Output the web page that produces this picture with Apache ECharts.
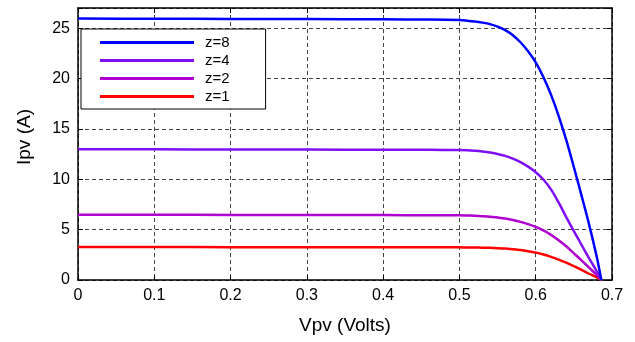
<!DOCTYPE html>
<html>
<head>
    <meta charset="utf-8">
    <title>Ipv - Vpv</title>
    <script src="https://cdn.jsdelivr.net/npm/echarts@6/dist/echarts.min.js"></script>
    <style>
        html, body { margin: 0; padding: 0; background: #ffffff; }
        #main { width: 635px; height: 342px; }
    </style>
</head>
<body>
<div id="main"></div>
<script>
    // curves: voltage (V) shared, current (A) per z
    var names = ['z=8', 'z=4', 'z=2', 'z=1'];
    var colors = ['#0000ff', '#7f10f5', '#b000d0', '#ff0000'];

    var volts = [0, 0.1, 0.2, 0.3, 0.4, 0.46, 0.5, 0.51, 0.52, 0.53, 0.54, 0.55, 0.56, 0.57, 0.58, 0.59,
                 0.6, 0.61, 0.62, 0.63, 0.64, 0.65, 0.66, 0.67, 0.68, 0.686];
    var iZ8 = [25.95, 25.93, 25.92, 25.9, 25.88, 25.85, 25.8, 25.74, 25.66, 25.55, 25.4, 25.15, 24.8, 24.3, 23.6, 22.7,
               21.6, 20.15, 18.4, 16.3, 13.9, 11.2, 8.4, 5.5, 2.3, 0];
    var iZ4 = [12.98, 12.97, 12.96, 12.95, 12.93, 12.92, 12.9, 12.87, 12.82, 12.75, 12.65, 12.5, 12.32, 12.05, 11.7, 11.25,
               10.7, 9.98, 9.0, 7.7, 6.25, 4.85, 3.5, 2.15, 0.85, 0];
    var iZ2 = [6.48, 6.47, 6.46, 6.45, 6.44, 6.43, 6.42, 6.4, 6.38, 6.34, 6.29, 6.2, 6.1, 5.96, 5.77, 5.55,
               5.27, 4.92, 4.48, 3.95, 3.35, 2.65, 1.95, 1.22, 0.5, 0];
    var iZ1 = [3.27, 3.27, 3.26, 3.26, 3.25, 3.25, 3.24, 3.235, 3.22, 3.21, 3.19, 3.16, 3.12, 3.05, 2.97, 2.86,
               2.72, 2.53, 2.3, 2.03, 1.72, 1.37, 1.0, 0.62, 0.25, 0];

    var xTicks = [0, 0.1, 0.2, 0.3, 0.4, 0.5, 0.6, 0.7];
    var yTicks = [0, 5, 10, 15, 20, 25];

    function pairs(v, i) {
        var out = [];
        for (var k = 0; k < v.length; k++) out.push([v[k], i[k]]);
        return out;
    }

    var curves = [pairs(volts, iZ8), pairs(volts, iZ4), pairs(volts, iZ2), pairs(volts, iZ1)];

    var font = 'Liberation Sans, Arial, sans-serif';
    var gridLine = { show: true, lineStyle: { color: '#444', type: [4, 3], width: 1 } };
    var frame = { show: true, onZero: false, lineStyle: { color: '#000', width: 1.5 } };
    var tickIn = { show: true, inside: true, length: 5, lineStyle: { color: '#000' } };

    var chart = echarts.init(document.getElementById('main'));

    chart.setOption({
        animation: false,
        textStyle: { fontFamily: font },
        grid: { left: 78, right: 23, top: 8, bottom: 62 },
        legend: {
            orient: 'vertical',
            left: 81,
            top: 29,
            padding: [6, 36, 5, 19],
            icon: 'rect',
            itemWidth: 94,
            itemHeight: 3,
            itemGap: 3,
            backgroundColor: '#fff',
            borderColor: '#000',
            borderWidth: 1,
            borderRadius: 0,
            textStyle: { fontSize: 15, lineHeight: 14, color: '#000', fontFamily: font, padding: [0, 0, 0, 6] },
            data: names
        },
        xAxis: [{
            type: 'value',
            min: 0,
            max: 0.7,
            interval: 0.1,
            name: 'Vpv (Volts)',
            nameLocation: 'middle',
            nameGap: 36,
            nameTextStyle: { fontSize: 19, color: '#000', fontFamily: font },
            axisLine: frame,
            axisTick: tickIn,
            splitLine: gridLine,
            axisLabel: {
                fontSize: 16, color: '#000', margin: 8,
                formatter: function (v) { return xTicks.indexOf(+v.toFixed(1)) >= 0 ? String(+v.toFixed(1)) : ''; }
            }
        }, {
            type: 'value',
            position: 'top',
            min: 0,
            max: 0.7,
            interval: 0.1,
            axisLine: frame,
            axisTick: tickIn,
            axisLabel: { show: false },
            splitLine: { show: false }
        }],
        yAxis: [{
            type: 'value',
            min: 0,
            max: 27,
            interval: 5,
            name: 'Ipv (A)',
            nameLocation: 'middle',
            nameGap: 44,
            nameTextStyle: { fontSize: 19, color: '#000', fontFamily: font, padding: [0, 0, 0, 14] },
            axisLine: frame,
            axisTick: tickIn,
            splitLine: gridLine,
            axisLabel: {
                fontSize: 16, color: '#000', margin: 8,
                formatter: function (v) { return yTicks.indexOf(v) >= 0 ? String(v) : ''; }
            }
        }, {
            type: 'value',
            position: 'right',
            min: 0,
            max: 27,
            interval: 5,
            axisLine: frame,
            axisTick: tickIn,
            axisLabel: { show: false },
            splitLine: { show: false }
        }],
        series: names.map(function (n, k) {
            return {
                name: n,
                type: 'line',
                data: curves[k],
                symbol: 'none',
                smooth: 0.3,
                smoothConstraint: false,
                color: colors[k],
                lineStyle: { width: 2.5, color: colors[k] },
                z: 10 - k
            };
        })
    });
</script>
</body>
</html>
